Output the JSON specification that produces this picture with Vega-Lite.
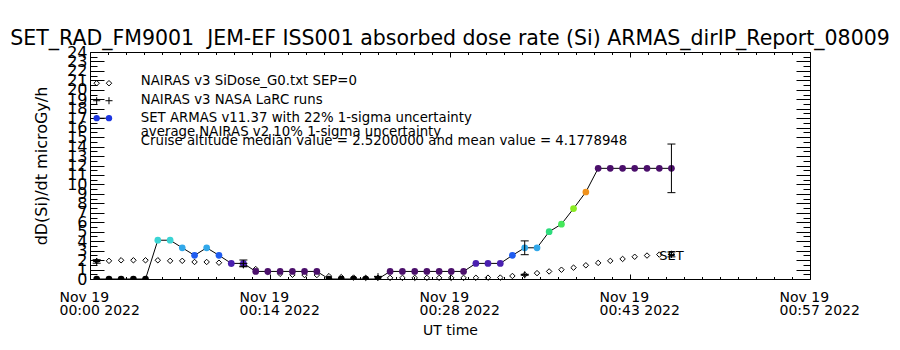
{
  "$schema": "https://vega.github.io/schema/vega-lite/v6.json",
  "width": 720,
  "height": 227,
  "autosize": {"type": "none"},
  "padding": {"left": 90, "top": 52, "right": 90, "bottom": 71},
  "background": "white",
  "title": {
    "text": "SET_RAD_FM9001\u00a0 JEM-EF ISS001 absorbed dose rate (Si) ARMAS_dirIP_Report_08009",
    "font": "DejaVu Sans",
    "fontSize": 20.5,
    "fontWeight": "normal",
    "color": "black",
    "anchor": "middle",
    "offset": -5
  },
  "config": {
    "view": {"stroke": "black", "strokeWidth": 1},
    "font": "DejaVu Sans",
    "axis": {
      "domainColor": "black",
      "tickColor": "black",
      "labelColor": "black",
      "titleColor": "black",
      "grid": false,
      "titleFontWeight": "normal",
      "labelFont": "DejaVu Sans",
      "titleFont": "DejaVu Sans"
    }
  },
  "datasets": {
    "armas": [
      {"time": "2022-11-19T00:00:32Z", "dose": 0},
      {"time": "2022-11-19T00:01:31Z", "dose": 0},
      {"time": "2022-11-19T00:02:29Z", "dose": 0},
      {"time": "2022-11-19T00:03:28Z", "dose": 0},
      {"time": "2022-11-19T00:04:26Z", "dose": 0},
      {"time": "2022-11-19T00:05:25Z", "dose": 4.1},
      {"time": "2022-11-19T00:06:24Z", "dose": 4.1},
      {"time": "2022-11-19T00:07:22Z", "dose": 3.3},
      {"time": "2022-11-19T00:08:21Z", "dose": 2.5},
      {"time": "2022-11-19T00:09:19Z", "dose": 3.3},
      {"time": "2022-11-19T00:10:18Z", "dose": 2.5},
      {"time": "2022-11-19T00:11:17Z", "dose": 1.65},
      {"time": "2022-11-19T00:12:15Z", "dose": 1.65},
      {"time": "2022-11-19T00:13:14Z", "dose": 0.8},
      {"time": "2022-11-19T00:14:12Z", "dose": 0.8},
      {"time": "2022-11-19T00:15:11Z", "dose": 0.8},
      {"time": "2022-11-19T00:16:10Z", "dose": 0.8},
      {"time": "2022-11-19T00:17:08Z", "dose": 0.8},
      {"time": "2022-11-19T00:18:07Z", "dose": 0.8},
      {"time": "2022-11-19T00:19:05Z", "dose": 0},
      {"time": "2022-11-19T00:20:04Z", "dose": 0},
      {"time": "2022-11-19T00:21:03Z", "dose": 0},
      {"time": "2022-11-19T00:22:01Z", "dose": 0},
      {"time": "2022-11-19T00:23:00Z", "dose": 0},
      {"time": "2022-11-19T00:23:58Z", "dose": 0.8},
      {"time": "2022-11-19T00:24:57Z", "dose": 0.8},
      {"time": "2022-11-19T00:25:56Z", "dose": 0.8},
      {"time": "2022-11-19T00:26:54Z", "dose": 0.8},
      {"time": "2022-11-19T00:27:53Z", "dose": 0.8},
      {"time": "2022-11-19T00:28:51Z", "dose": 0.8},
      {"time": "2022-11-19T00:29:50Z", "dose": 0.8},
      {"time": "2022-11-19T00:30:49Z", "dose": 1.65},
      {"time": "2022-11-19T00:31:47Z", "dose": 1.65},
      {"time": "2022-11-19T00:32:46Z", "dose": 1.65},
      {"time": "2022-11-19T00:33:44Z", "dose": 2.5},
      {"time": "2022-11-19T00:34:43Z", "dose": 3.3},
      {"time": "2022-11-19T00:35:42Z", "dose": 3.3},
      {"time": "2022-11-19T00:36:40Z", "dose": 5.0},
      {"time": "2022-11-19T00:37:39Z", "dose": 5.8},
      {"time": "2022-11-19T00:38:37Z", "dose": 7.45},
      {"time": "2022-11-19T00:39:36Z", "dose": 9.2},
      {"time": "2022-11-19T00:40:35Z", "dose": 11.7},
      {"time": "2022-11-19T00:41:33Z", "dose": 11.7},
      {"time": "2022-11-19T00:42:32Z", "dose": 11.7},
      {"time": "2022-11-19T00:43:30Z", "dose": 11.7},
      {"time": "2022-11-19T00:44:29Z", "dose": 11.7},
      {"time": "2022-11-19T00:45:28Z", "dose": 11.7},
      {"time": "2022-11-19T00:46:26Z", "dose": 11.7}
    ],
    "nairas": [
      {"time": "2022-11-19T00:00:32Z", "dose": 1.9},
      {"time": "2022-11-19T00:01:31Z", "dose": 1.92},
      {"time": "2022-11-19T00:02:29Z", "dose": 1.98},
      {"time": "2022-11-19T00:03:28Z", "dose": 1.98},
      {"time": "2022-11-19T00:04:26Z", "dose": 1.98},
      {"time": "2022-11-19T00:05:25Z", "dose": 1.98},
      {"time": "2022-11-19T00:06:24Z", "dose": 1.92},
      {"time": "2022-11-19T00:07:22Z", "dose": 1.92},
      {"time": "2022-11-19T00:08:21Z", "dose": 1.8},
      {"time": "2022-11-19T00:09:19Z", "dose": 1.8},
      {"time": "2022-11-19T00:10:18Z", "dose": 1.72},
      {"time": "2022-11-19T00:11:17Z", "dose": 1.62},
      {"time": "2022-11-19T00:12:15Z", "dose": 1.5},
      {"time": "2022-11-19T00:13:14Z", "dose": 1.05},
      {"time": "2022-11-19T00:14:12Z", "dose": 0.75},
      {"time": "2022-11-19T00:15:11Z", "dose": 0.55},
      {"time": "2022-11-19T00:16:10Z", "dose": 0.45},
      {"time": "2022-11-19T00:17:08Z", "dose": 0.42},
      {"time": "2022-11-19T00:18:07Z", "dose": 0.42},
      {"time": "2022-11-19T00:19:05Z", "dose": 0.3},
      {"time": "2022-11-19T00:20:04Z", "dose": 0.2},
      {"time": "2022-11-19T00:21:03Z", "dose": 0.15},
      {"time": "2022-11-19T00:22:01Z", "dose": 0.12},
      {"time": "2022-11-19T00:23:00Z", "dose": 0.12},
      {"time": "2022-11-19T00:23:58Z", "dose": 0.12},
      {"time": "2022-11-19T00:24:57Z", "dose": 0.12},
      {"time": "2022-11-19T00:25:56Z", "dose": 0.12},
      {"time": "2022-11-19T00:26:54Z", "dose": 0.12},
      {"time": "2022-11-19T00:27:53Z", "dose": 0.12},
      {"time": "2022-11-19T00:28:51Z", "dose": 0.12},
      {"time": "2022-11-19T00:29:50Z", "dose": 0.12},
      {"time": "2022-11-19T00:30:49Z", "dose": 0.13},
      {"time": "2022-11-19T00:31:47Z", "dose": 0.14},
      {"time": "2022-11-19T00:32:46Z", "dose": 0.15},
      {"time": "2022-11-19T00:33:44Z", "dose": 0.32},
      {"time": "2022-11-19T00:34:43Z", "dose": 0.45},
      {"time": "2022-11-19T00:35:42Z", "dose": 0.62},
      {"time": "2022-11-19T00:36:40Z", "dose": 0.8},
      {"time": "2022-11-19T00:37:39Z", "dose": 0.98},
      {"time": "2022-11-19T00:38:37Z", "dose": 1.2},
      {"time": "2022-11-19T00:39:36Z", "dose": 1.45},
      {"time": "2022-11-19T00:40:35Z", "dose": 1.7},
      {"time": "2022-11-19T00:41:33Z", "dose": 1.92},
      {"time": "2022-11-19T00:42:32Z", "dose": 2.12},
      {"time": "2022-11-19T00:43:30Z", "dose": 2.35},
      {"time": "2022-11-19T00:44:29Z", "dose": 2.48},
      {"time": "2022-11-19T00:45:28Z", "dose": 2.58},
      {"time": "2022-11-19T00:46:26Z", "dose": 2.65}
    ],
    "larc": [
      {"time": "2022-11-19T00:00:32Z", "dose": 1.85},
      {"time": "2022-11-19T00:12:15Z", "dose": 1.5},
      {"time": "2022-11-19T00:23:00Z", "dose": 0.25},
      {"time": "2022-11-19T00:34:43Z", "dose": 0.45},
      {"time": "2022-11-19T00:46:26Z", "dose": 2.6}
    ],
    "errbars": [
      {"time": "2022-11-19T00:12:15Z", "lo": 1.29, "hi": 2.01},
      {"time": "2022-11-19T00:34:43Z", "lo": 2.57, "hi": 4.03},
      {"time": "2022-11-19T00:46:26Z", "lo": 9.13, "hi": 14.27},
      {"time": "2022-11-19T00:00:32Z", "lo": 1.67, "hi": 2.04},
      {"time": "2022-11-19T00:12:15Z", "lo": 1.35, "hi": 1.65},
      {"time": "2022-11-19T00:23:00Z", "lo": 0.22, "hi": 0.28},
      {"time": "2022-11-19T00:34:43Z", "lo": 0.4, "hi": 0.5},
      {"time": "2022-11-19T00:46:26Z", "lo": 2.34, "hi": 2.86}
    ],
    "legend": [
      {"key": "nairas", "time": "2022-11-19T00:00:32Z", "v": 20.7},
      {"key": "nairas", "time": "2022-11-19T00:01:31Z", "v": 20.7},
      {"key": "larc", "time": "2022-11-19T00:00:32Z", "v": 18.85},
      {"key": "larc", "time": "2022-11-19T00:01:31Z", "v": 18.85},
      {"key": "armas", "time": "2022-11-19T00:00:32Z", "v": 17.0},
      {"key": "armas", "time": "2022-11-19T00:01:31Z", "v": 17.0}
    ],
    "notes": [
      {"label": "NAIRAS v3 SiDose_G0.txt SEP=0", "time": "2022-11-19T00:04:03Z", "v": 20.93},
      {"label": "NAIRAS v3 NASA LaRC runs", "time": "2022-11-19T00:04:03Z", "v": 18.92},
      {"label": "SET ARMAS v11.37 with 22% 1-sigma uncertainty", "time": "2022-11-19T00:04:03Z", "v": 17.02},
      {"label": "average NAIRAS v2 10% 1-sigma uncertainty", "time": "2022-11-19T00:04:03Z", "v": 15.54},
      {"label": "Cruise altitude median value = 2.5200000 and mean value = 4.1778948", "time": "2022-11-19T00:04:03Z", "v": 14.59}
    ],
    "setlabel": [
      {"label": "SET", "time": "2022-11-19T00:46:26Z", "v": 2.65}
    ]
  },
  "resolve": {"axis": {"x": "independent", "y": "independent"}},
  "layer": [
    {
      "data": {"name": "nairas"},
      "mark": {"type": "point", "shape": "diamond", "filled": false, "stroke": "black", "strokeWidth": 1, "size": 30, "opacity": 1},
      "encoding": {
        "x": {
          "field": "time", "type": "temporal",
          "scale": {"type": "utc", "domain": [1668816000000, 1668819450000]},
          "axis": {
            "orient": "top",
            "values": [1668816000000,1668816086250,1668816172500,1668816258750,1668816345000,1668816431250,1668816517500,1668816603750,1668816690000,1668816776250,1668816862500,1668816948750,1668817035000,1668817121250,1668817207500,1668817293750,1668817380000,1668817466250,1668817552500,1668817638750,1668817725000,1668817811250,1668817897500,1668817983750,1668818070000,1668818156250,1668818242500,1668818328750,1668818415000,1668818501250,1668818587500,1668818673750,1668818760000,1668818846250,1668818932500,1668819018750,1668819105000,1668819191250,1668819277500,1668819363750,1668819450000],
            "tickSize": {"condition": {"test": "(datum.value - 1668816000000) % 862500 === 0", "value": -5}, "value": -2.5},
            "labels": false, "title": null, "domain": false
          }
        },
        "y": {
          "field": "dose", "type": "quantitative",
          "scale": {"domain": [0, 24], "nice": false, "zero": false},
          "axis": {
            "orient": "right",
            "values": [0,0.5,1,1.5,2,2.5,3,3.5,4,4.5,5,5.5,6,6.5,7,7.5,8,8.5,9,9.5,10,10.5,11,11.5,12,12.5,13,13.5,14,14.5,15,15.5,16,16.5,17,17.5,18,18.5,19,19.5,20,20.5,21,21.5,22,22.5,23,23.5,24],
            "tickSize": {"condition": {"test": "datum.value % 1 === 0", "value": -14}, "value": -7},
            "labels": false, "title": null, "domain": false
          }
        }
      }
    },
    {
      "data": {"name": "larc"},
      "mark": {"type": "point", "shape": "M-1,0H1M0,-1V1", "filled": false, "stroke": "black", "strokeWidth": 1, "size": 50, "opacity": 1},
      "encoding": {
        "x": {"field": "time", "type": "temporal", "axis": null},
        "y": {"field": "dose", "type": "quantitative", "axis": null}
      }
    },
    {
      "data": {"name": "armas"},
      "mark": {"type": "line", "color": "black", "strokeWidth": 1},
      "encoding": {
        "x": {
          "field": "time", "type": "temporal",
          "axis": {
            "orient": "bottom",
            "values": [1668816000000,1668816086250,1668816172500,1668816258750,1668816345000,1668816431250,1668816517500,1668816603750,1668816690000,1668816776250,1668816862500,1668816948750,1668817035000,1668817121250,1668817207500,1668817293750,1668817380000,1668817466250,1668817552500,1668817638750,1668817725000,1668817811250,1668817897500,1668817983750,1668818070000,1668818156250,1668818242500,1668818328750,1668818415000,1668818501250,1668818587500,1668818673750,1668818760000,1668818846250,1668818932500,1668819018750,1668819105000,1668819191250,1668819277500,1668819363750,1668819450000],
            "tickSize": {"condition": {"test": "(datum.value - 1668816000000) % 862500 === 0", "value": -5}, "value": -2.5},
            "labelExpr": "(datum.value - 1668816000000) % 862500 === 0 ? ['Nov 19', utcFormat(datum.value, '%H:%M %Y')] : ''",
            "labelAlign": "left",
            "labelOffset": -31,
            "labelBaseline": "top",
            "labelPadding": 16,
            "labelFontSize": 14,
            "labelLineHeight": 13,
            "labelOverlap": false,
            "labelFlush": false,
            "labelBound": false,
            "title": "UT time",
            "titleFontSize": 14,
            "titlePadding": 6,
            "domain": false
          }
        },
        "y": {
          "field": "dose", "type": "quantitative",
          "axis": {
            "orient": "left",
            "values": [0,0.5,1,1.5,2,2.5,3,3.5,4,4.5,5,5.5,6,6.5,7,7.5,8,8.5,9,9.5,10,10.5,11,11.5,12,12.5,13,13.5,14,14.5,15,15.5,16,16.5,17,17.5,18,18.5,19,19.5,20,20.5,21,21.5,22,22.5,23,23.5,24],
            "tickSize": {"condition": {"test": "datum.value % 1 === 0", "value": -14}, "value": -7},
            "labelExpr": "datum.value % 1 === 0 ? format(datum.value, 'd') : ''",
            "labelFontSize": 16,
            "labelPadding": 17,
            "labelOverlap": false,
            "labelBound": false,
            "labelFlush": false,
            "title": "dD(Si)/dt microGy/h",
            "titleFontSize": 16,
            "titlePadding": 17,
            "domain": false
          }
        }
      }
    },
    {
      "data": {"name": "armas"},
      "mark": {"type": "point", "shape": "circle", "filled": true, "size": 45, "opacity": 1, "clip": true},
      "encoding": {
        "x": {"field": "time", "type": "temporal", "axis": null},
        "y": {"field": "dose", "type": "quantitative", "axis": null},
        "color": {
          "field": "dose", "type": "quantitative",
          "scale": {
            "type": "threshold",
            "domain": [0.4, 1.2, 2.1, 2.9, 3.7, 4.6, 5.4, 6.6, 8.3, 10.5],
            "range": ["#000000", "#4b0f6b", "#4a20b0", "#1f5cf0", "#31a8ea", "#3ad4d4", "#2cdc7c", "#45e85a", "#8aec24", "#f0921c", "#4b0f6b"]
          },
          "legend": null
        }
      }
    },
    {
      "data": {"name": "errbars"},
      "mark": {"type": "rule", "color": "black", "strokeWidth": 1},
      "encoding": {
        "x": {"field": "time", "type": "temporal", "axis": null},
        "y": {"field": "lo", "type": "quantitative", "axis": null},
        "y2": {"field": "hi"}
      }
    },
    {
      "data": {"name": "errbars"},
      "mark": {"type": "tick", "orient": "horizontal", "size": 8, "thickness": 1, "color": "black", "opacity": 1},
      "encoding": {
        "x": {"field": "time", "type": "temporal", "axis": null},
        "y": {"field": "lo", "type": "quantitative", "axis": null}
      }
    },
    {
      "data": {"name": "errbars"},
      "mark": {"type": "tick", "orient": "horizontal", "size": 8, "thickness": 1, "color": "black", "opacity": 1},
      "encoding": {
        "x": {"field": "time", "type": "temporal", "axis": null},
        "y": {"field": "hi", "type": "quantitative", "axis": null}
      }
    },
    {
      "data": {"name": "legend"},
      "transform": [{"filter": "datum.key === 'nairas'"}],
      "mark": {"type": "point", "shape": "diamond", "filled": false, "stroke": "black", "strokeWidth": 1, "size": 30, "opacity": 1},
      "encoding": {
        "x": {"field": "time", "type": "temporal", "axis": null},
        "y": {"field": "v", "type": "quantitative", "axis": null}
      }
    },
    {
      "data": {"name": "legend"},
      "transform": [{"filter": "datum.key === 'larc'"}],
      "mark": {"type": "point", "shape": "M-1,0H1M0,-1V1", "filled": false, "stroke": "black", "strokeWidth": 1, "size": 50, "opacity": 1},
      "encoding": {
        "x": {"field": "time", "type": "temporal", "axis": null},
        "y": {"field": "v", "type": "quantitative", "axis": null}
      }
    },
    {
      "data": {"name": "legend"},
      "transform": [{"filter": "datum.key === 'armas'"}],
      "mark": {"type": "line", "color": "black", "strokeWidth": 1},
      "encoding": {
        "x": {"field": "time", "type": "temporal", "axis": null},
        "y": {"field": "v", "type": "quantitative", "axis": null}
      }
    },
    {
      "data": {"name": "legend"},
      "transform": [{"filter": "datum.key === 'armas'"}],
      "mark": {"type": "point", "shape": "circle", "filled": true, "color": "#1c35e0", "size": 40, "opacity": 1},
      "encoding": {
        "x": {"field": "time", "type": "temporal", "axis": null},
        "y": {"field": "v", "type": "quantitative", "axis": null}
      }
    },
    {
      "data": {"name": "notes"},
      "mark": {"type": "text", "align": "left", "baseline": "middle", "font": "DejaVu Sans", "fontSize": 13.3, "color": "black"},
      "encoding": {
        "x": {"field": "time", "type": "temporal", "axis": null},
        "y": {"field": "v", "type": "quantitative", "axis": null},
        "text": {"field": "label"}
      }
    },
    {
      "data": {"name": "setlabel"},
      "mark": {"type": "text", "align": "center", "baseline": "middle", "dy": 2, "font": "DejaVu Sans", "fontSize": 13, "color": "black"},
      "encoding": {
        "x": {"field": "time", "type": "temporal", "axis": null},
        "y": {"field": "v", "type": "quantitative", "axis": null},
        "text": {"field": "label"}
      }
    }
  ]
}
